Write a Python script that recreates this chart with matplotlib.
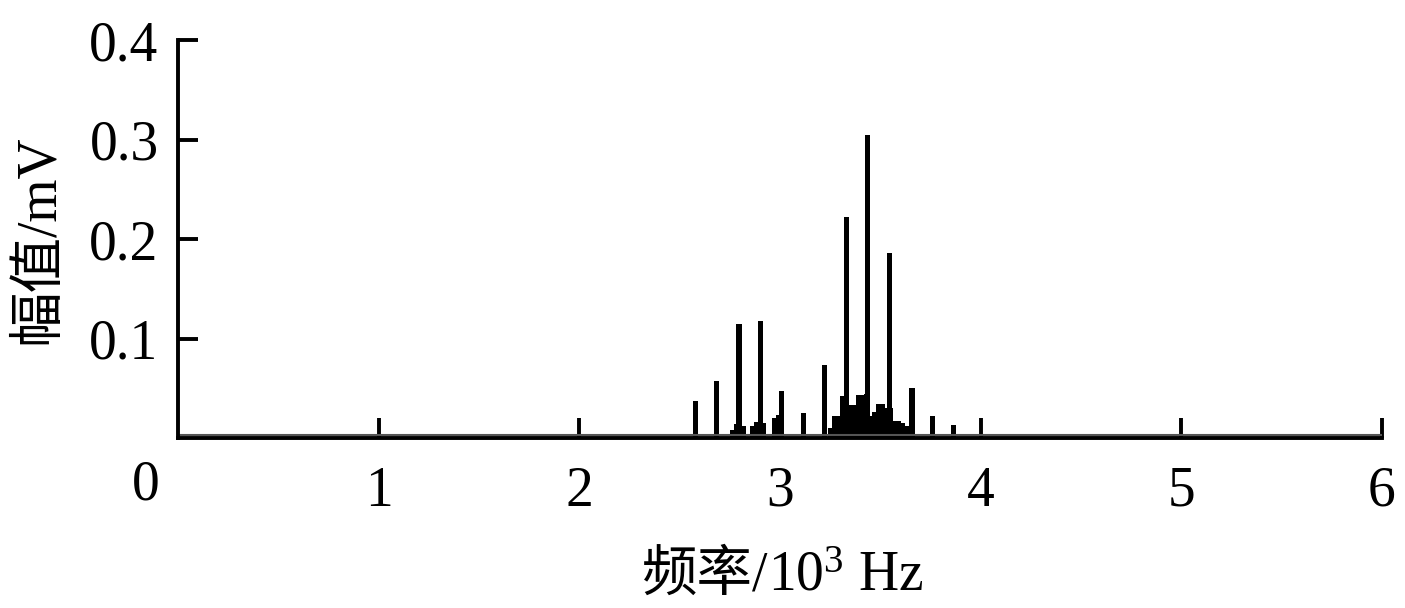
import matplotlib
matplotlib.use('Agg')
import matplotlib.pyplot as plt

plt.rcParams['font.family'] = ['Liberation Serif', 'Noto Sans CJK SC']
plt.rcParams['mathtext.fontset'] = 'custom'
plt.rcParams['mathtext.rm'] = 'Liberation Serif'
plt.rcParams['font.size'] = 40

# spectral lines (kHz, mV)
peak_freq = [2.580, 2.685, 2.796, 2.904, 3.008, 3.116, 3.222, 3.330, 3.436, 3.546, 3.658, 3.761, 3.866]
peak_amp = [0.037, 0.057, 0.115, 0.118, 0.047, 0.025, 0.073, 0.222, 0.305, 0.186, 0.050, 0.022, 0.013]

# broad pedestal under the main cluster
ped_freq = [2.76, 2.78, 2.80, 2.82, 2.86, 2.88, 2.90, 2.92, 2.97, 2.99,
            3.25, 3.27, 3.29, 3.31, 3.33, 3.35, 3.37, 3.39, 3.41, 3.43,
            3.45, 3.47, 3.49, 3.51, 3.53, 3.55, 3.57, 3.59, 3.61, 3.63]
ped_amp = [0.008, 0.014, 0.015, 0.012, 0.012, 0.016, 0.027, 0.015, 0.020, 0.023,
           0.010, 0.022, 0.022, 0.042, 0.035, 0.033, 0.033, 0.043, 0.043, 0.044,
           0.022, 0.026, 0.034, 0.034, 0.030, 0.030, 0.017, 0.017, 0.015, 0.012]
noise_floor = 0.003

xticks = [1, 2, 3, 4, 5, 6]
yticks = [0.1, 0.2, 0.3, 0.4]

fig = plt.figure(figsize=(14.05, 6.08), dpi=100)
ax = fig.add_axes([0.1267, 0.2796, 0.8569, 0.6546])

ax.axhline(noise_floor, color='#555555', lw=1.5)
ax.bar(ped_freq, ped_amp, width=0.022, color='black', linewidth=0)
ax.bar(peak_freq, peak_amp, width=0.026, color='black', linewidth=0)

ax.set_xlim(0, 6)
ax.set_ylim(0, 0.4)
for s in ['top', 'right']:
    ax.spines[s].set_visible(False)
for s in ['left', 'bottom']:
    ax.spines[s].set_linewidth(2.8)

ax.set_xticks(xticks)
ax.set_xticklabels([str(t) for t in xticks])
ax.set_yticks(yticks)
ax.set_yticklabels([f'{t:.1f}' for t in yticks])
ax.tick_params(axis='both', direction='in', length=14.5, width=2.8, labelsize=40)
ax.tick_params(axis='x', pad=20)
ax.tick_params(axis='y', pad=14)

ax.annotate('0', xy=(0, 0), xytext=(-23, -34), textcoords='offset points',
            ha='center', va='center', fontsize=40)

# x label in two pieces: CJK part + mathtext unit with a proper superscript
fig.text(0.5466, 0.028, '频率/', ha='right', va='baseline', fontsize=40)
fig.text(0.5466, 0.028, r'$\mathregular{10^3}$ Hz', ha='left', va='baseline', fontsize=40)
ax.set_ylabel('幅值/mV', fontsize=40, labelpad=17)

plt.savefig('out.png', dpi=100)
plt.close()
